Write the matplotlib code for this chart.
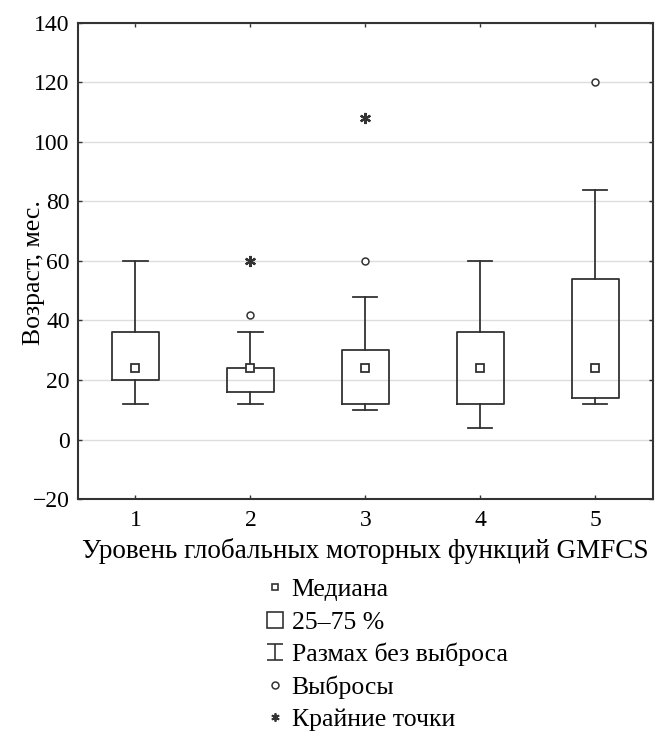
import matplotlib
matplotlib.use("Agg")
import matplotlib.pyplot as plt
from matplotlib.lines import Line2D
from matplotlib.path import Path

plt.rcParams['font.family'] = ['Liberation Serif', 'DejaVu Serif']

# GMFCS levels
levels = [1, 2, 3, 4, 5]
medians = [24, 24, 24, 24, 24]
q1 = [20, 16, 12, 12, 14]
q3 = [36, 24, 30, 36, 54]
whis_lo = [12, 12, 10, 4, 12]
whis_hi = [60, 36, 48, 60, 84]
# outliers / extremes (level, value)
outlier_x = [2, 3, 5]
outlier_y = [42, 60, 120]
extreme_x = [2, 3]
extreme_y = [60, 108]

yticks = [-20, 0, 20, 40, 60, 80, 100, 120, 140]
legend_labels = ["Медиана", "25–75 %", "Размах без выброса", "Выбросы", "Крайние точки"]

dark = "#333333"

fig = plt.figure(figsize=(6.57, 7.36), dpi=100)
ax = fig.add_axes([0.1187, 0.322, 0.875, 0.6468])

stats = []
for i in range(len(levels)):
    stats.append({"med": medians[i], "q1": q1[i], "q3": q3[i],
                  "whislo": whis_lo[i], "whishi": whis_hi[i], "fliers": []})

ax.bxp(stats, positions=levels, widths=0.41, showfliers=False,
       boxprops=dict(color=dark, linewidth=1.3),
       whiskerprops=dict(color=dark, linewidth=1.3),
       capprops=dict(color=dark, linewidth=1.3),
       medianprops=dict(linewidth=0),
       capwidths=0.21)

ax.plot(levels, medians, linestyle="none", marker="s", markersize=6,
        markerfacecolor="white", markeredgecolor=dark, markeredgewidth=1.3, zorder=5)
ax.plot(outlier_x, outlier_y, linestyle="none", marker="o", markersize=5,
        markerfacecolor="white", markeredgecolor=dark, markeredgewidth=1.1, zorder=5)
ax.plot(extreme_x, extreme_y, linestyle="none", marker=(6, 2, 0), markersize=8,
        color=dark, markeredgewidth=1.6, zorder=5)

ax.set_xlim(0.5, 5.5)
ax.set_ylim(-20, 140)
ax.set_xticks(levels)
ax.set_yticks(yticks)
ax.set_yticklabels([str(v).replace("-", "−") for v in yticks])
ax.grid(axis="y", color="#dddddd", linewidth=1)
ax.set_axisbelow(True)
ax.tick_params(direction="in", length=3, width=1, top=True, right=True,
               labelsize=17, colors=dark, labelcolor="black")
ax.tick_params(axis="x", pad=8)
ax.tick_params(axis="y", pad=6)
for s in ax.spines.values():
    s.set_color(dark)
    s.set_linewidth(1.5)

ax.set_ylabel("Возраст, мес.", fontsize=18.5)
ax.yaxis.set_label_coords(-0.058, 0.475)
ax.set_xlabel("Уровень глобальных моторных функций GMFCS", fontsize=19.5, labelpad=5)

# whisker legend marker: I-beam
ibeam = Path([(-1, 1), (1, 1), (0, 1), (0, -1), (-1, -1), (1, -1)],
             [Path.MOVETO, Path.LINETO, Path.MOVETO, Path.LINETO, Path.MOVETO, Path.LINETO])

handles = [
    Line2D([], [], linestyle="none", marker="s", markersize=5, markerfacecolor="white",
           markeredgecolor=dark, markeredgewidth=1.2),
    Line2D([], [], linestyle="none", marker="s", markersize=11, markerfacecolor="white",
           markeredgecolor=dark, markeredgewidth=1.2),
    Line2D([], [], linestyle="none", marker=ibeam, markersize=11, color=dark,
           markeredgewidth=1.2),
    Line2D([], [], linestyle="none", marker="o", markersize=5, markerfacecolor="white",
           markeredgecolor=dark, markeredgewidth=1.1),
    Line2D([], [], linestyle="none", marker=(6, 2, 0), markersize=6, color=dark,
           markeredgewidth=1.3),
]
fig.legend(handles, legend_labels, loc="upper left", bbox_to_anchor=(0.405, 0.214),
           frameon=False, fontsize=18.5, handlelength=0.7, handletextpad=0.3,
           labelspacing=0.36, borderpad=0, borderaxespad=0)

fig.savefig("out.png", dpi=100)
